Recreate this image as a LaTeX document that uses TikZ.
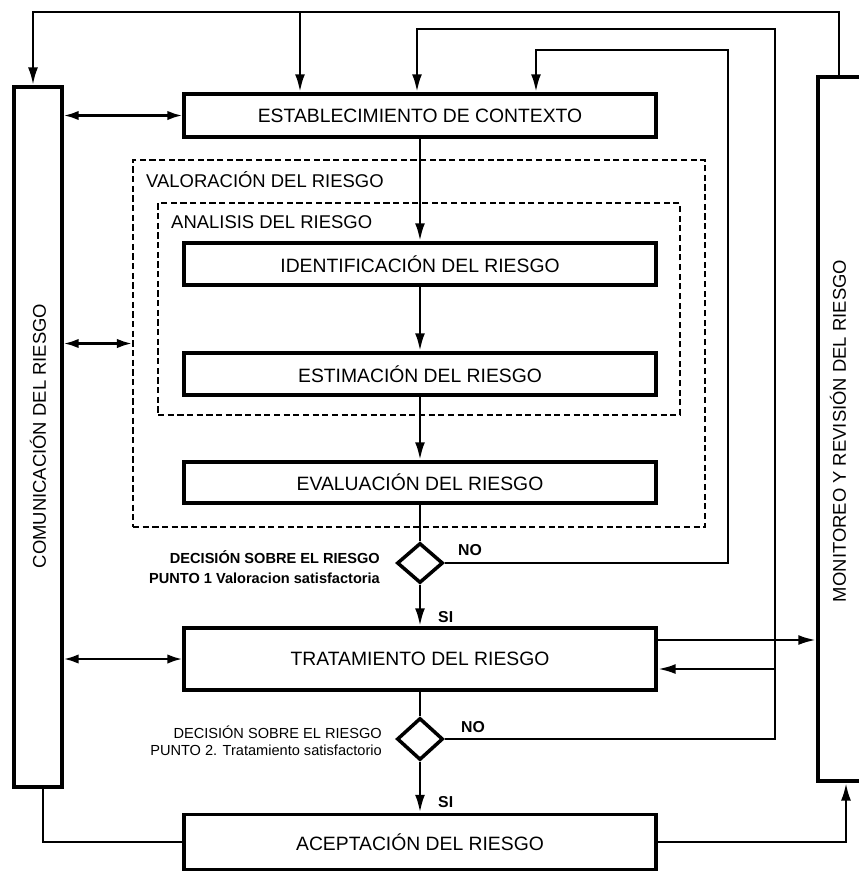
\documentclass[tikz,border=0pt]{standalone}
\usepackage{fontspec}
\setmainfont{Liberation Sans}
\usetikzlibrary{arrows.meta,shapes.geometric}
\begin{document}
\begin{tikzpicture}[x=0.02cm,y=-0.02cm,
    caja/.style={draw,line width=2pt,minimum width=9.44cm,font=\fontsize{11}{13}\selectfont},
    lado/.style={draw,line width=2pt,minimum width=0.96cm,minimum height=14cm},
    zona/.style={draw,line width=1.3pt,dash pattern=on 3.5pt off 2pt,inner sep=0pt},
    rombo/.style={draw,diamond,line width=2pt,inner sep=0pt,minimum width=0.92cm,minimum height=0.8cm},
    flecha/.style={line width=1.6pt,-{Latex[length=3.6mm,width=2mm]}},
    doble/.style={line width=1.4pt,{Latex[length=3mm,width=1.9mm]}-{Latex[length=3mm,width=1.9mm]}},
    linea/.style={line width=1.6pt},
    etiq/.style={font=\fontsize{10.5}{12}\selectfont},
    dec/.style={align=right,anchor=east,font=\fontsize{8.3}{11}\selectfont\bfseries},
    sino/.style={anchor=west,font=\fontsize{9}{10}\selectfont\bfseries}]
\useasboundingbox (0,0) rectangle (859,873);

\node[lado] (com) at (38,437) {};
\node[etiq,rotate=90] (comtxt) at (38,436) {COMUNICACIÓN DEL RIESGO};
\node[lado,minimum height=14.08cm] (mon) at (842,429) {};
\node[etiq,rotate=90] (montxt) at (838,431) {MONITOREO Y REVISIÓN DEL RIESGO};

\node[zona,minimum width=11.44cm,minimum height=7.34cm] (valo) at (419,343.5) {};
\node[zona,minimum width=10.44cm,minimum height=4.24cm] (anal) at (419,309) {};
\node[etiq,anchor=west] (valotxt) at (140,180) {VALORACIÓN DEL RIESGO};
\node[etiq,anchor=west] (analtxt) at (165,222) {ANALISIS DEL RIESGO};

\node[caja,minimum height=0.86cm] (est) at (420,115.5) {ESTABLECIMIENTO DE CONTEXTO};
\node[caja,minimum height=0.84cm] (ide) at (420,264) {IDENTIFICACIÓN DEL RIESGO};
\node[caja,minimum height=0.84cm] (estim) at (420,374) {ESTIMACIÓN DEL RIESGO};
\node[caja,minimum height=0.82cm] (eva) at (420,482.5) {EVALUACIÓN DEL RIESGO};
\node[rombo] (d1) at (420,563) {};
\node[caja,minimum height=1.24cm] (tra) at (420,659) {TRATAMIENTO DEL RIESGO};
\node[rombo,minimum height=0.84cm] (d2) at (420,739) {};
\node[caja,minimum height=1.1cm] (ace) at (420,842) {ACEPTACIÓN DEL RIESGO};

\node[dec] (dec1) at (386,567) {DECISIÓN SOBRE EL RIESGO\\PUNTO 1 Valoracion satisfactoria};
\node[dec,font=\fontsize{8.3}{9.5}\selectfont] (dec2) at (388,741) {DECISIÓN SOBRE EL RIESGO\\PUNTO 2. Tratamiento satisfactorio};
\node[sino] (no1) at (452,550) {NO};
\node[sino] (si1) at (432,617) {SI};
\node[sino] (no2) at (455,727) {NO};
\node[sino] (si2) at (432,802) {SI};

\coordinate (tl) at (33,12);
\coordinate (tm) at (300,12);
\coordinate (tr) at (839,12);
\coordinate (ra) at (417,29);
\coordinate (rb) at (775,29);
\coordinate (sa) at (536,50);
\coordinate (sb) at (728,50);
\coordinate (rt) at (775,669);
\coordinate (mt) at (800,640);
\coordinate (ab) at (846,842);
\coordinate (cb) at (43,842);

\draw[flecha] (tr |- mon.north) -- (tr) -- (tl) -- (tl |- com.north);
\draw[flecha] (tm) -- (tm |- est.north);
\draw[flecha] (d2.east) -- (d2.east -| rb) -- (rb) -- (ra) -- (ra |- est.north);
\draw[flecha] (rt) -- (rt -| tra.east);
\draw[flecha] (d1.east) -- (d1.east -| sb) -- (sb) -- (sa) -- (sa |- est.north);
\draw[flecha] (mt -| tra.east) -- (mt -| mon.west);
\draw[flecha] (ace.east) -- (ab) -- (ab |- mon.south);
\draw[linea] (com.south -| cb) -- (cb) -- (ace.west);
\draw[doble] (com.east |- est.west) -- (est.west);
\draw[doble] (com.east |- valo.west) -- (valo.west);
\draw[doble] (com.east |- tra.west) -- (tra.west);
\draw[flecha] (est.south) -- (ide.north);
\draw[flecha] (ide.south) -- (estim.north);
\draw[flecha] (estim.south) -- (eva.north);
\draw[linea] (eva.south) -- (d1.north);
\draw[flecha] (d1.south) -- (tra.north);
\draw[linea] (tra.south) -- (d2.north);
\draw[flecha] (d2.south) -- (ace.north);
\end{tikzpicture}
\end{document}
